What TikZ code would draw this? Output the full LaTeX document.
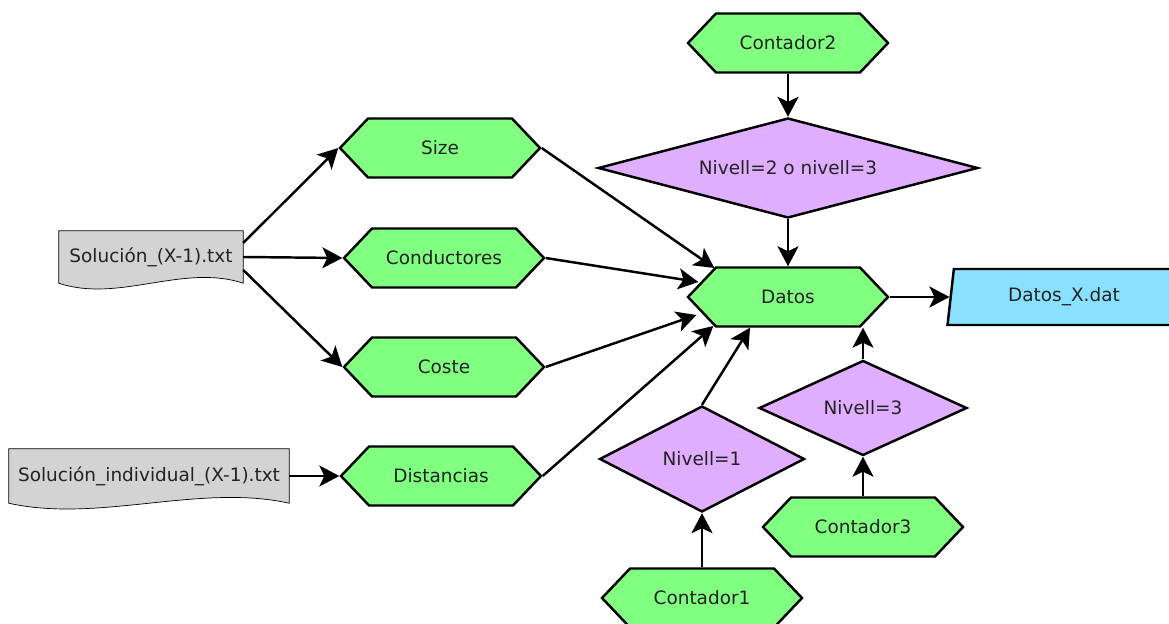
\documentclass[tikz,border=0pt]{standalone}
\usepackage{fontspec}
\setmainfont{DejaVu Sans}
\usetikzlibrary{shapes.geometric,shapes.symbols,arrows.meta,calc,backgrounds}
\definecolor{hexgreen}{RGB}{128,255,128}
\definecolor{decpurple}{RGB}{224,174,255}
\definecolor{datblue}{RGB}{137,225,255}
\definecolor{docgray}{RGB}{211,211,211}
\definecolor{labeltext}{RGB}{34,34,34}
\begin{document}
\begin{tikzpicture}[x=0.02cm,y=-0.02cm,
  font=\fontsize{10.5pt}{12pt}\selectfont,
  line width=1.4pt,
  hexa/.style={signal, signal to=east and west, signal pointer angle=93, draw, fill=hexgreen,
    text=labeltext, minimum width=4cm, minimum height=1.18cm, inner sep=0pt},
  cond/.style={diamond, draw, fill=decpurple, text=labeltext, inner sep=0pt},
  doc/.style={rectangle, text=labeltext, inner sep=0pt},
  io/.style={trapezium, trapezium left angle=71, trapezium right angle=109, trapezium stretches body,
    draw, fill=datblue, text=labeltext, minimum width=4.66cm, minimum height=1.12cm, inner sep=0pt},
  arr/.style={-{Stealth[length=0.4cm,width=0.42cm,inset=0.1cm]}}
]
\useasboundingbox (0,0) rectangle (1169,624);
\clip (0,0) rectangle (1169,624);

% documents
\node[doc, minimum width=3.64cm, minimum height=1cm] (sol1) at (151,257) {Solución\_(X-1).txt};
\node[doc, minimum width=5.56cm, minimum height=1.04cm] (sol2) at (149,476) {Solución\_individual\_(X-1).txt};
\begin{scope}[on background layer]
\draw[fill=docgray] (sol1.south west) -- (sol1.north west) -- (sol1.north east) -- (sol1.south east)
  .. controls ($(sol1.south east)+(-60,-20)$) and ($(sol1.south west)+(60,20)$) .. (sol1.south west) -- cycle;
\draw[fill=docgray] (sol2.south west) -- (sol2.north west) -- (sol2.north east) -- (sol2.south east)
  .. controls ($(sol2.south east)+(-90,-20)$) and ($(sol2.south west)+(90,20)$) .. (sol2.south west) -- cycle;
\end{scope}

% hexagons
\node[hexa] (size) at (440,148) {Size};
\node[hexa] (cond) at (444,258) {Conductores};
\node[hexa] (coste) at (444,367) {Coste};
\node[hexa] (dist) at (441,476) {Distancias};
\node[hexa] (c2) at (788,43) {Contador2};
\node[hexa] (datos) at (788,297) {Datos};
\node[hexa] (c3) at (863,527) {Contador3};
\node[hexa] (c1) at (702,598) {Contador1};

% decisions
\node[cond, aspect=3.8, minimum width=7.6cm, minimum height=2cm] (dec) at (788,168) {Nivell=2 o nivell=3};
\node[cond, aspect=1.9, minimum width=4.1cm, minimum height=2.12cm] (niv1) at (702,459) {Nivell=1};
\node[cond, aspect=2.2, minimum width=4.16cm, minimum height=1.9cm] (niv3) at (863,408) {Nivell=3};

% output
\node[io] (out) at (1064,297) {Datos\_X.dat};

% connectors
\draw[arr] ($(sol1.east)+(0,-14)$) -- (size.west);
\draw[arr] (sol1.east) -- (cond.west);
\draw[arr] ($(sol1.east)+(0,13)$) -- (coste.west);
\draw[arr] (sol2.east) -- (dist.west);
\draw[arr] (size.east) -- ($(datos.west)+(28,-29)$);
\draw[arr] (cond.east) -- ($(datos.west)+(12,-15)$);
\draw[arr] (coste.east) -- ($(datos.west)+(10,18)$);
\draw[arr] (dist.east) -- ($(datos.west)+(27,29)$);
\draw[arr] (niv1.north) -- ($(datos.south)+(-38,0)$);
\draw[arr] (niv3.north) -- (niv3.north |- datos.south);
\draw[arr] (c2.south) -- (dec.north);
\draw[arr] (dec.south) -- (datos.north);
\draw[arr] (datos.east) -- (out.west);
\draw[arr] (c1.north) -- (niv1.south);
\draw[arr] (c3.north) -- (niv3.south);
\end{tikzpicture}
\end{document}
